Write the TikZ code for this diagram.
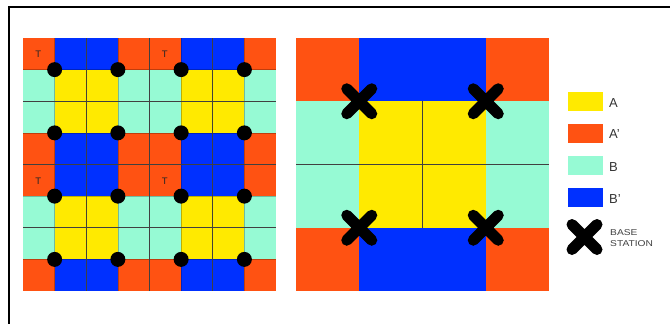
\documentclass[tikz,border=0pt]{standalone}
\usepackage{fontspec}
\setmainfont{Liberation Sans}
\usetikzlibrary{shapes.misc}
\definecolor{cA}{RGB}{255,234,0}
\definecolor{cAp}{RGB}{255,82,18}
\definecolor{cB}{RGB}{150,250,212}
\definecolor{cBp}{RGB}{0,48,255}
\tikzset{
  gline/.style={black!75, line width=0.6pt},
  fline/.style={black, opacity=0.25, line width=0.5pt},
  dot/.style={circle, fill=black, inner sep=0pt, minimum size=15pt},
  bsx/.style={cross out, draw=black, line width=11pt, line cap=round, minimum size=14pt, inner sep=0pt},
  swatch/.style={rectangle, minimum width=35pt, minimum height=19pt, inner sep=0pt},
  leglabel/.style={anchor=west, inner sep=0pt, text=black!80, font=\fontsize{13}{15}\selectfont},
  tlabel/.style={inner sep=0pt, text=black!85, font=\fontsize{9.5}{10}\selectfont}
}
\begin{document}
\begin{tikzpicture}[x=1pt,y=-1pt]
\useasboundingbox (0,0) rectangle (670,324);
\fill[white] (0,0) rectangle (670,324);
\draw[line width=2pt] (8.5,324) -- (8.5,6.5) -- (670,6.5);

% ---------- left grid: 2x2 tiles, unit 31.625
\def\u{31.625}
\begin{scope}[shift={(23,38)}]
  \fill[cAp] (0,0) rectangle ({8*\u},{8*\u});
  \foreach \k in {1,5} {
    \fill[cBp] ({\k*\u},0) rectangle ({(\k+2)*\u},{8*\u});
    \fill[cB] (0,{\k*\u}) rectangle ({8*\u},{(\k+2)*\u});
  }
  \foreach \k in {1,5} \foreach \m in {1,5} {
    \fill[cA] ({\k*\u},{\m*\u}) rectangle ({(\k+2)*\u},{(\m+2)*\u});
  }
  \foreach \k in {1,3,5,7} {
    \draw[fline] ({\k*\u},0) -- ({\k*\u},{8*\u});
    \draw[fline] (0,{\k*\u}) -- ({8*\u},{\k*\u});
  }
  \foreach \k in {2,4,6} {
    \draw[gline] ({\k*\u},0) -- ({\k*\u},{8*\u});
    \draw[gline] (0,{\k*\u}) -- ({8*\u},{\k*\u});
  }
  \foreach \k in {0,4} \foreach \m in {0,4} {
    \node[tlabel] (t-\k-\m) at ({(\k+0.5)*\u-0.5},{(\m+0.5)*\u+0.5}) {T};
  }
  \foreach \k in {1,3,5,7} \foreach \m in {1,3,5,7} {
    \node[dot] (d-\k-\m) at ({\k*\u},{\m*\u}) {};
  }
\end{scope}

% ---------- right grid: one tile, unit 63.25
\def\v{63.25}
\begin{scope}[shift={(296,38)}]
  \fill[cAp] (0,0) rectangle ({4*\v},{4*\v});
  \fill[cBp] ({\v},0) rectangle ({3*\v},{4*\v});
  \fill[cB] (0,{\v}) rectangle ({4*\v},{3*\v});
  \fill[cA] ({\v},{\v}) rectangle ({3*\v},{3*\v});
  \draw[gline] (0,{2*\v}) -- ({4*\v},{2*\v});
  \draw[gline] ({2*\v},{\v}) -- ({2*\v},{3*\v});
  \node[bsx] (x-1) at ({\v},{\v}) {};
  \node[bsx] (x-2) at ({3*\v},{\v}) {};
  \node[bsx] (x-3) at ({\v},{3*\v}) {};
  \node[bsx] (x-4) at ({3*\v},{3*\v}) {};
\end{scope}

% ---------- legend
\node[swatch, fill=cA]  (sA)  at (585.5,101.5) {};
\node[swatch, fill=cAp] (sAp) at (585.5,133) {};
\node[swatch, fill=cB]  (sB)  at (585.5,165.5) {};
\node[swatch, fill=cBp] (sBp) at (585.5,197.5) {};
\node[bsx] (sX) at (584.5,237) {};
\node[leglabel] (lA)  at (609,103) {A};
\node[leglabel] (lAp) at (609,134.5) {A'};
\node[leglabel] (lB)  at (609,167) {B};
\node[leglabel] (lBp) at (609,199) {B'};
\node[anchor=west, inner sep=0pt, align=left, text=black!75, xscale=1.2,
      font=\fontsize{8.5}{11}\selectfont] (lX) at (610,238.5) {BASE\\STATION};
\end{tikzpicture}
\end{document}
